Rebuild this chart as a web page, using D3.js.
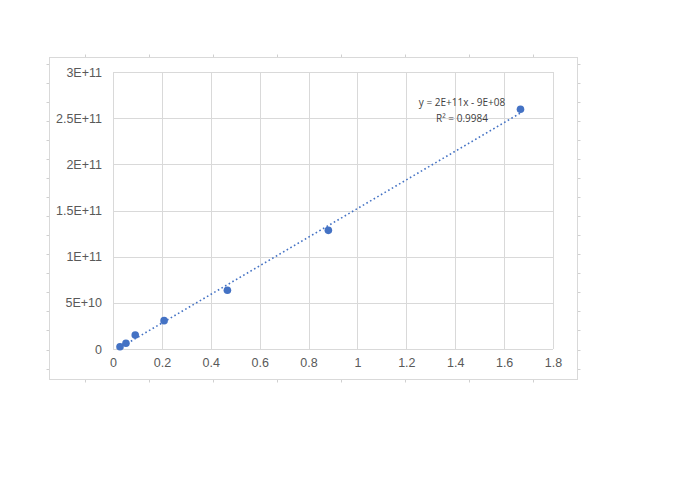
<!DOCTYPE html>
<html><head><meta charset="utf-8">
<script src="https://cdn.jsdelivr.net/npm/d3@7"></script>
<style>html,body{margin:0;padding:0;background:#fff;}svg{display:block;}</style>
</head><body>
<svg id="c" width="700" height="501"></svg>
<script>
const xValues = [0.0286, 0.053, 0.091, 0.209, 0.468, 0.881, 1.667];
const yValues = [2.5e9, 6.2e9, 15.2e9, 30.7e9, 63.6e9, 128.5e9, 259.6e9];
const xTicks = [0, 0.2, 0.4, 0.6, 0.8, 1, 1.2, 1.4, 1.6, 1.8];
const yTicks = [0, 5e10, 1e11, 1.5e11, 2e11, 2.5e11, 3e11];
const yTickLabels = ["0", "5E+10", "1E+11", "1.5E+11", "2E+11", "2.5E+11", "3E+11"];
const equationText = ["y = 2E+11x - 9E+08", "R\u00b2 = 0.9984"];

const svg = d3.select("#c");
const W = 700, H = 501;
const box = {x0: 49.5, y0: 57.5, x1: 577.5, y1: 379.5};
const P = {l: 113, t: 72, r: 553, b: 349};

// faint spreadsheet cell marks around chart border
const colMarks = d3.range(0, 9).map(k => 85 + 64 * k).filter(x => x > box.x0 && x < box.x1);
const rowMarks = d3.range(0, 17).map(k => 63.5 + 19.07 * k).filter(y => y > box.y0 && y < box.y1);
const mk = svg.append("g").attr("stroke", "#d0d0d0").attr("stroke-width", 1);
colMarks.forEach(x => {
  mk.append("line").attr("x1", x + .5).attr("x2", x + .5).attr("y1", box.y0 - 3).attr("y2", box.y0);
  mk.append("line").attr("x1", x + .5).attr("x2", x + .5).attr("y1", box.y1).attr("y2", box.y1 + 3);
});
rowMarks.forEach(y => {
  const yy = Math.round(y) + .5;
  mk.append("line").attr("x1", box.x0 - 3).attr("x2", box.x0).attr("y1", yy).attr("y2", yy);
  mk.append("line").attr("x1", box.x1).attr("x2", box.x1 + 3).attr("y1", yy).attr("y2", yy);
});

svg.append("rect").attr("x", box.x0).attr("y", box.y0)
  .attr("width", box.x1 - box.x0).attr("height", box.y1 - box.y0)
  .attr("fill", "#fff").attr("stroke", "#d9d9d9").attr("stroke-width", 1);

const x = d3.scaleLinear().domain([0, 1.8]).range([P.l, P.r]);
const y = d3.scaleLinear().domain([0, 3e11]).range([P.b, P.t]);

// gridlines
const g = svg.append("g");
g.selectAll(".vg").data(xTicks).join("line")
  .attr("x1", d => Math.round(x(d)) + .5).attr("x2", d => Math.round(x(d)) + .5)
  .attr("y1", P.t).attr("y2", P.b).attr("stroke", "#d9d9d9");
g.selectAll(".hg").data(yTicks).join("line")
  .attr("y1", d => Math.round(y(d)) + .5).attr("y2", d => Math.round(y(d)) + .5)
  .attr("x1", P.l).attr("x2", P.r).attr("stroke", "#d9d9d9");

// axes labels
const xAxis = d3.axisBottom(x).tickValues(xTicks).tickSize(0).tickPadding(9).tickFormat(d => String(d));
const ax = svg.append("g").attr("transform", `translate(0,${P.b})`).call(xAxis);
ax.select(".domain").remove();
const yAxis = d3.axisLeft(y).tickValues(yTicks).tickSize(0).tickPadding(11).tickFormat((d, i) => yTickLabels[i]);
const ay = svg.append("g").attr("transform", `translate(${P.l},0)`).call(yAxis);
ay.select(".domain").remove();
svg.selectAll(".tick text").attr("fill", "#595959").attr("font-size", "12.5px")
  .attr("font-family", "Liberation Sans, Arial, sans-serif");
ax.selectAll(".tick text").attr("dy", "0.71em");

// linear regression trendline
const n = xValues.length;
const mx = d3.mean(xValues), my = d3.mean(yValues);
let sxy = 0, sxx = 0;
for (let i = 0; i < n; i++) { sxy += (xValues[i] - mx) * (yValues[i] - my); sxx += (xValues[i] - mx) ** 2; }
const slope = sxy / sxx, icpt = my - slope * mx;
const xMin = d3.min(xValues), xMax = d3.max(xValues);
svg.append("line")
  .attr("x1", x(xMin)).attr("y1", y(slope * xMin + icpt))
  .attr("x2", x(xMax)).attr("y2", y(slope * xMax + icpt))
  .attr("stroke", "#4472C4").attr("stroke-width", 1.6)
  .attr("stroke-dasharray", "1.6,2.6").attr("stroke-linecap", "butt");

// points
svg.selectAll(".pt").data(xValues).join("circle")
  .attr("cx", d => x(d)).attr("cy", (d, i) => y(yValues[i])).attr("r", 3.8)
  .attr("fill", "#4472C4");

// equation label
const eq = svg.append("text").attr("text-anchor", "middle")
  .attr("font-family", "Open Sans, Liberation Sans, sans-serif").attr("font-size", "10px").attr("fill", "#404040");
eq.selectAll("tspan").data(equationText).join("tspan")
  .attr("x", 462).attr("y", (d, i) => 106 + i * 16).text(d => d);
</script>
</body></html>
